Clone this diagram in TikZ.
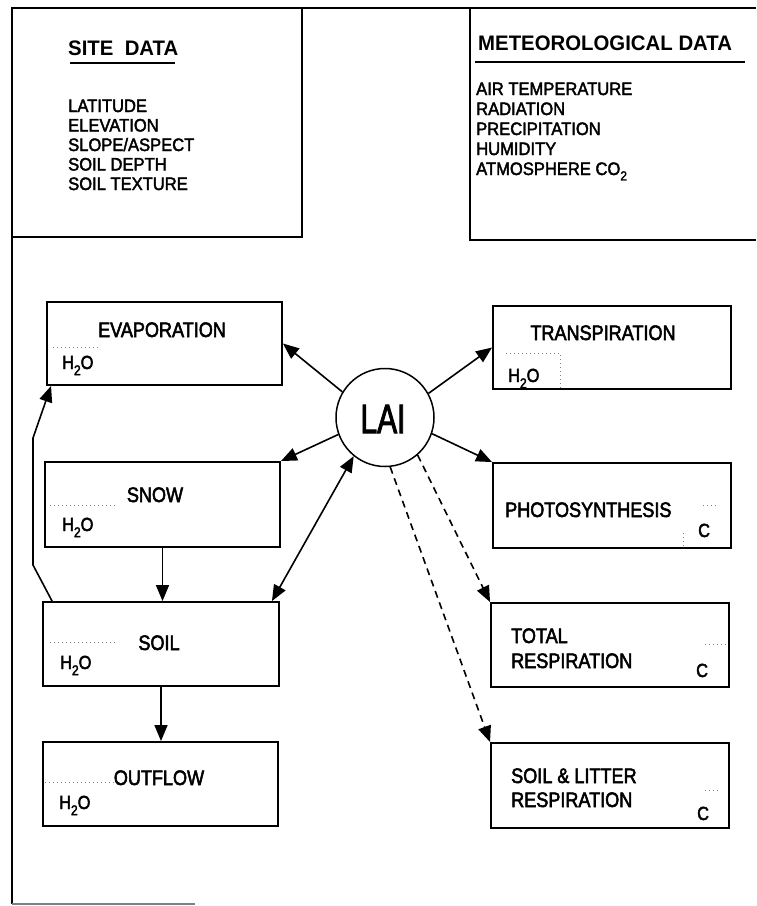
\documentclass[tikz,border=0pt]{standalone}
\usepackage{graphicx}
\usepackage{fontspec}
\setmainfont{Liberation Sans}[FakeStretch=0.86, FakeBold=2.5]
\newfontfamily\listfont{Liberation Sans}[FakeStretch=0.92, FakeBold=2.2]
\newfontfamily\titlefont{Liberation Sans Bold}[FakeStretch=0.97]
\usetikzlibrary{arrows.meta,calc}
\newcommand{\HtwoO}{H\raisebox{-0.32em}{\fontsize{14}{14}\selectfont 2}O}
\begin{document}
\begin{tikzpicture}[x=1pt,y=-1pt,
  box/.style={draw, line width=1.9pt, rectangle, inner sep=0pt},
  lbl/.style={inner sep=0pt, font=\fontsize{21}{21}\selectfont, anchor=base},
  lblw/.style={lbl, anchor=base west},
  lst/.style={inner sep=0pt, font=\listfont\fontsize{18}{18}\selectfont, anchor=base west},
  ttl/.style={inner sep=0pt, font=\titlefont\fontsize{21}{21}\selectfont, anchor=base west},
  hto/.style={inner sep=0pt, font=\fontsize{19}{19}\selectfont, anchor=base west},
  conn/.style={line width=1.6pt, -{Triangle[length=16pt,width=13pt]}},
  dconn/.style={line width=1.6pt, {Triangle[length=16pt,width=13pt]}-{Triangle[length=16pt,width=13pt]}},
  dashconn/.style={conn, dash pattern=on 7pt off 5pt},
  faint/.style={line width=0.7pt, gray, dash pattern=on 1pt off 3pt},
  frame/.style={line width=2.2pt}
]
\useasboundingbox (0,0) rectangle (756,906);

% outer frame
\draw[frame] (756,8) -- (12,8) -- (12,904);
\draw[line width=1.5pt, gray] (12,904) -- (195,904);

% site data box
\draw[frame] (302,8) -- (302,237) -- (12,237);
\node[ttl] (sitetitle) at (68,55) {SITE\ \ DATA};
\draw[line width=1.6pt] (70,63) -- (175,63);
\node[lst] (s1) at (68,112) {LATITUDE};
\node[lst] (s2) at (68,131.5) {ELEVATION};
\node[lst] (s3) at (68,151) {SLOPE/ASPECT};
\node[lst] (s4) at (68,170.5) {SOIL DEPTH};
\node[lst] (s5) at (68,190) {SOIL TEXTURE};

% meteorological data box
\draw[frame] (470,8) -- (470,240) -- (756,240);
\node[ttl] (mettitle) at (478,50) {METEOROLOGICAL DATA};
\draw[line width=1.6pt] (475,62) -- (745,62);
\node[lst] (m1) at (476,95) {AIR TEMPERATURE};
\node[lst] (m2) at (476,115) {RADIATION};
\node[lst] (m3) at (476,135) {PRECIPITATION};
\node[lst] (m4) at (476,155) {HUMIDITY};
\node[lst] (m5) at (476,175) {ATMOSPHERE CO\raisebox{-0.3em}{\fontsize{13}{13}\selectfont 2}};

% left boxes
\node[box, minimum width=235pt, minimum height=83pt] (evap) at (164.5,343.5) {};
\node[box, minimum width=235pt, minimum height=85pt] (snow) at (162.5,504.5) {};
\node[box, minimum width=236pt, minimum height=84pt] (soil) at (161,644) {};
\node[box, minimum width=235pt, minimum height=84pt] (outflow) at (160.5,784) {};

% right boxes
\node[box, minimum width=238pt, minimum height=83pt] (trans) at (612,347.5) {};
\node[box, minimum width=238pt, minimum height=85pt] (photo) at (612,505.5) {};
\node[box, minimum width=238pt, minimum height=84pt] (total) at (610,645) {};
\node[box, minimum width=238pt, minimum height=85pt] (litter) at (610,785.5) {};

% labels
\node[lbl] (evapL) at (162,337) {EVAPORATION};
\node[hto] (evapH) at (62,369) {\HtwoO};
\node[lbl] (snowL) at (155,502) {SNOW};
\node[hto] (snowH) at (62,531) {\HtwoO};
\node[lbl] (soilL) at (159,650) {SOIL};
\node[hto] (soilH) at (60,669) {\HtwoO};
\node[lbl] (outL) at (159,785) {OUTFLOW};
\node[hto] (outH) at (59,809) {\HtwoO};

\node[lbl] (transL) at (603,340) {TRANSPIRATION};
\node[hto] (transH) at (508,382) {\HtwoO};
\node[lblw] (photoL) at (505,517) {PHOTOSYNTHESIS};
\node[hto] (photoC) at (698,537) {C};
\node[lblw] (totalL1) at (511,643) {TOTAL};
\node[lblw] (totalL2) at (511,668) {RESPIRATION};
\node[hto] (totalC) at (696,677) {C};
\node[lblw] (litterL1) at (511,783) {SOIL \& LITTER};
\node[lblw] (litterL2) at (511,807) {RESPIRATION};
\node[hto] (litterC) at (697,820) {C};

% faint dotted marks
\draw[faint] (53,347) -- (98,347);
\draw[faint] (50,505) -- (117,505);
\draw[faint] (50,642) -- (115,642);
\draw[faint] (45,782) -- (115,782);
\draw[faint] (506,353) -- (560,353) -- (560,388);
\draw[faint] (703,505) -- (716,505);
\draw[faint] (683,533) -- (683,547);
\draw[faint] (705,644) -- (727,644);
\draw[faint] (705,790) -- (720,790);

% LAI
\node[circle, draw, line width=1.5pt, minimum size=98pt, inner sep=0pt] (lai) at (385,417.5) {};
\node[inner sep=0pt, anchor=base, font=\fontsize{41}{41}\selectfont] (laiL) at (383,433) {\scalebox{0.85}[1]{LAI}};

% connectors
\draw[conn] (lai.149) -- (evap.east);
\draw[conn] (lai.200) -- (snow.north east);
\draw[dconn] (lai.231) -- ($(soil.north east)+(-8,0)$);
\draw[conn] (lai.29) -- (trans.west);
\draw[conn] (lai.-19) -- (photo.north west);
\draw[dashconn] (lai.-49) -- (total.north west);
\draw[dashconn] (lai.-84) -- (litter.north west);

\draw[conn] (snow.south) -- (snow.south |- soil.north);
\draw[conn] (soil.south) -- (soil.south |- outflow.north);

\coordinate (b1) at (33,565);
\coordinate (b2) at (33,438);
\draw[conn] ($(soil.north west)+(10,0)$) -- (b1) -- (b2) -- ($(evap.south west)+(5,0)$);
\end{tikzpicture}
\end{document}
